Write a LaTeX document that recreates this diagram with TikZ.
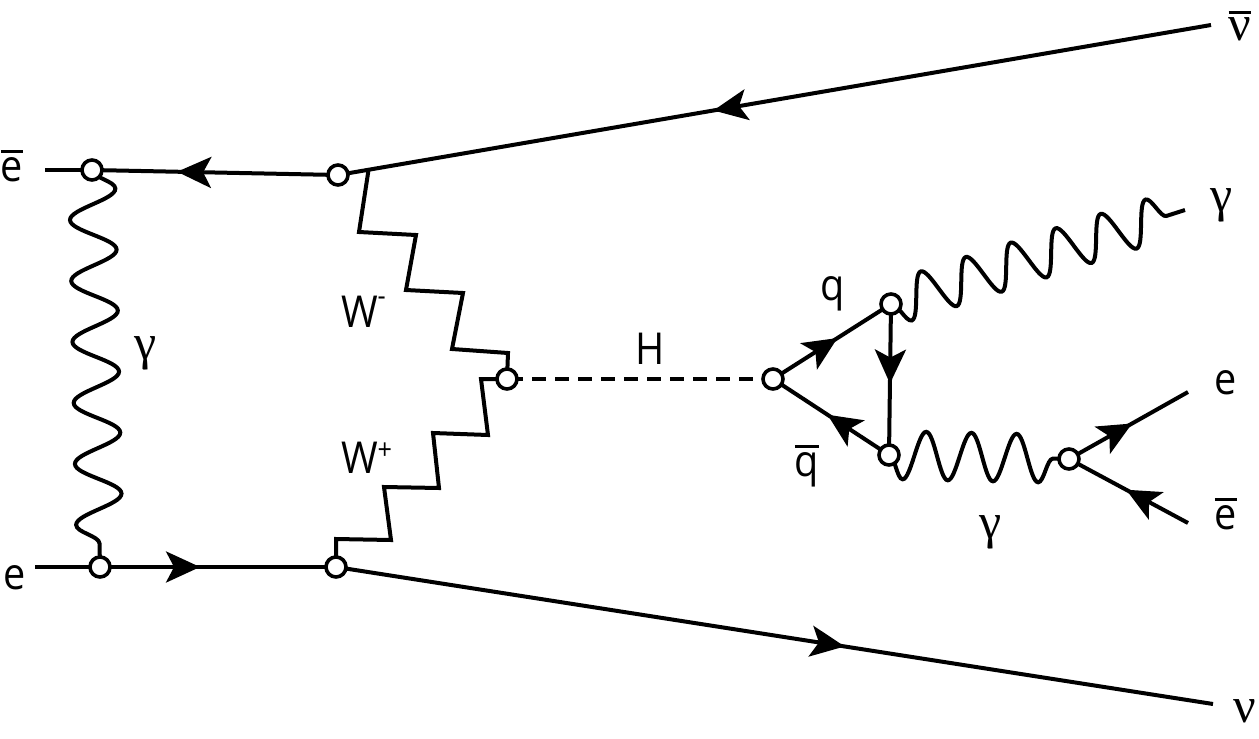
\documentclass[tikz,border=0pt]{standalone}
\usepackage{fontspec}
\setmainfont{Open Sans}[FakeStretch=0.9]
\newfontfamily\grkfont{Liberation Serif}
\usetikzlibrary{arrows.meta,decorations.pathmorphing,decorations.markings,calc}
\newcommand\myover[1]{\vbox{\hrule height 3pt\kern 4pt\hbox{#1}}}
\begin{document}
\begin{tikzpicture}[x=1pt,y=-1pt,line width=4pt]
\tikzset{
  fermion/.style={postaction={decorate,decoration={markings,
      mark=at position #1 with {\arrow{Stealth[length=34pt,width=31pt,inset=8pt]}}}}},
  photon/.style n args={2}{decorate,decoration={snake,segment length=#1,amplitude=#2}},
  photonm/.style n args={2}{decorate,decoration={snake,segment length=#1,amplitude=#2,mirror}},
  vtx/.style={circle,draw,fill=white,line width=3.6pt,minimum size=20pt,inner sep=0pt},
  lab/.style={inner sep=0pt,font=\fontsize{44}{44}\selectfont},
  glab/.style={inner sep=0pt,font=\grkfont\fontsize{50}{50}\selectfont},
  scalar/.style={dash pattern=on 14pt off 9pt,dash phase=21pt},
}
\useasboundingbox (0,0) rectangle (1259,739);
% vertices
\coordinate (A) at (92,170);
\coordinate (B) at (338,175);
\coordinate (C) at (100,567);
\coordinate (D) at (336,567);
\coordinate (E) at (507,379);
\coordinate (F) at (773,379);
\coordinate (G) at (891,304);
\coordinate (Hq) at (889,455);
\coordinate (I) at (1069,459);
% free ends
\coordinate (ebL) at (45,170);
\coordinate (eL) at (35,567);
\coordinate (nubar) at (1211,25);
\coordinate (nu) at (1213,704);
\coordinate (gamT) at (1185,210);
\coordinate (eR) at (1188,392);
\coordinate (ebR) at (1188,523);
% fermion lines
\draw (ebL) -- (A);
\draw[fermion=0.654] (B) -- (A);
\draw (eL) -- (C);
\draw[fermion=0.424] (C) -- (D);
\draw[fermion=0.57] (nubar) -- (B);
\draw[fermion=0.58] (D) -- (nu);
\draw[fermion=0.546] (F) -- (G);
\draw[fermion=0.527] (G) -- (Hq);
\draw[fermion=0.53] (Hq) -- (F);
\draw[fermion=0.53] (I) -- (eR);
\draw[fermion=0.52] (ebR) -- (I);
% photons
\draw[photon={61.0pt}{23pt}] (A) -- (C);
\draw[photonm={47.2pt}{22pt}] (G) -- (gamT);
\draw[photonm={45.2pt}{24pt}] (Hq) -- (I);
% W bosons
\draw[line join=miter] ($(B)!0.035!(nubar)$) -- (359,232) -- (416,235) -- (406,290)
  -- (463,293) -- (452,349) -- (508,353) -- (E);
\draw[line join=miter] (E) -- (481,379) -- (488,435) -- (433,433) -- (439,488)
  -- (384,487) -- (391,540) -- (336,539) -- (D);
% Higgs
\draw[scalar] (E) -- (F);
% vertex circles
\foreach \v in {A,B,C,D,E,F,G,Hq,I} \node[vtx] (v\v) at (\v) {};
% labels
\node[lab] (lebL) at (12,166) {\myover{e}};
\node[lab] (leL) at (15,578) {e};
\node[glab] (lgL) at (146,353) {γ};
\node[lab,anchor=base west] (lWm) at (339,327) {W\raisebox{22pt}{\fontsize{28}{28}\selectfont -}};
\node[lab,anchor=base west] (lWp) at (339,473) {W\raisebox{14pt}{\fontsize{28}{28}\selectfont +}};
\node[lab] (lH) at (650,349) {H};
\node[lab] (lq) at (833,294) {q};
\node[lab] (lqb) at (807,466) {\myover{q}};
\node[glab] (lgT) at (1222,205) {γ};
\node[glab] (lgB) at (991,532) {γ};
\node[lab] (leR) at (1226,383) {e};
\node[lab] (lebR) at (1226,514) {\myover{e}};
\node[glab] (lnub) at (1240,26) {\myover{ν}};
\node[glab] (lnu) at (1245,711) {ν};
\end{tikzpicture}
\end{document}
